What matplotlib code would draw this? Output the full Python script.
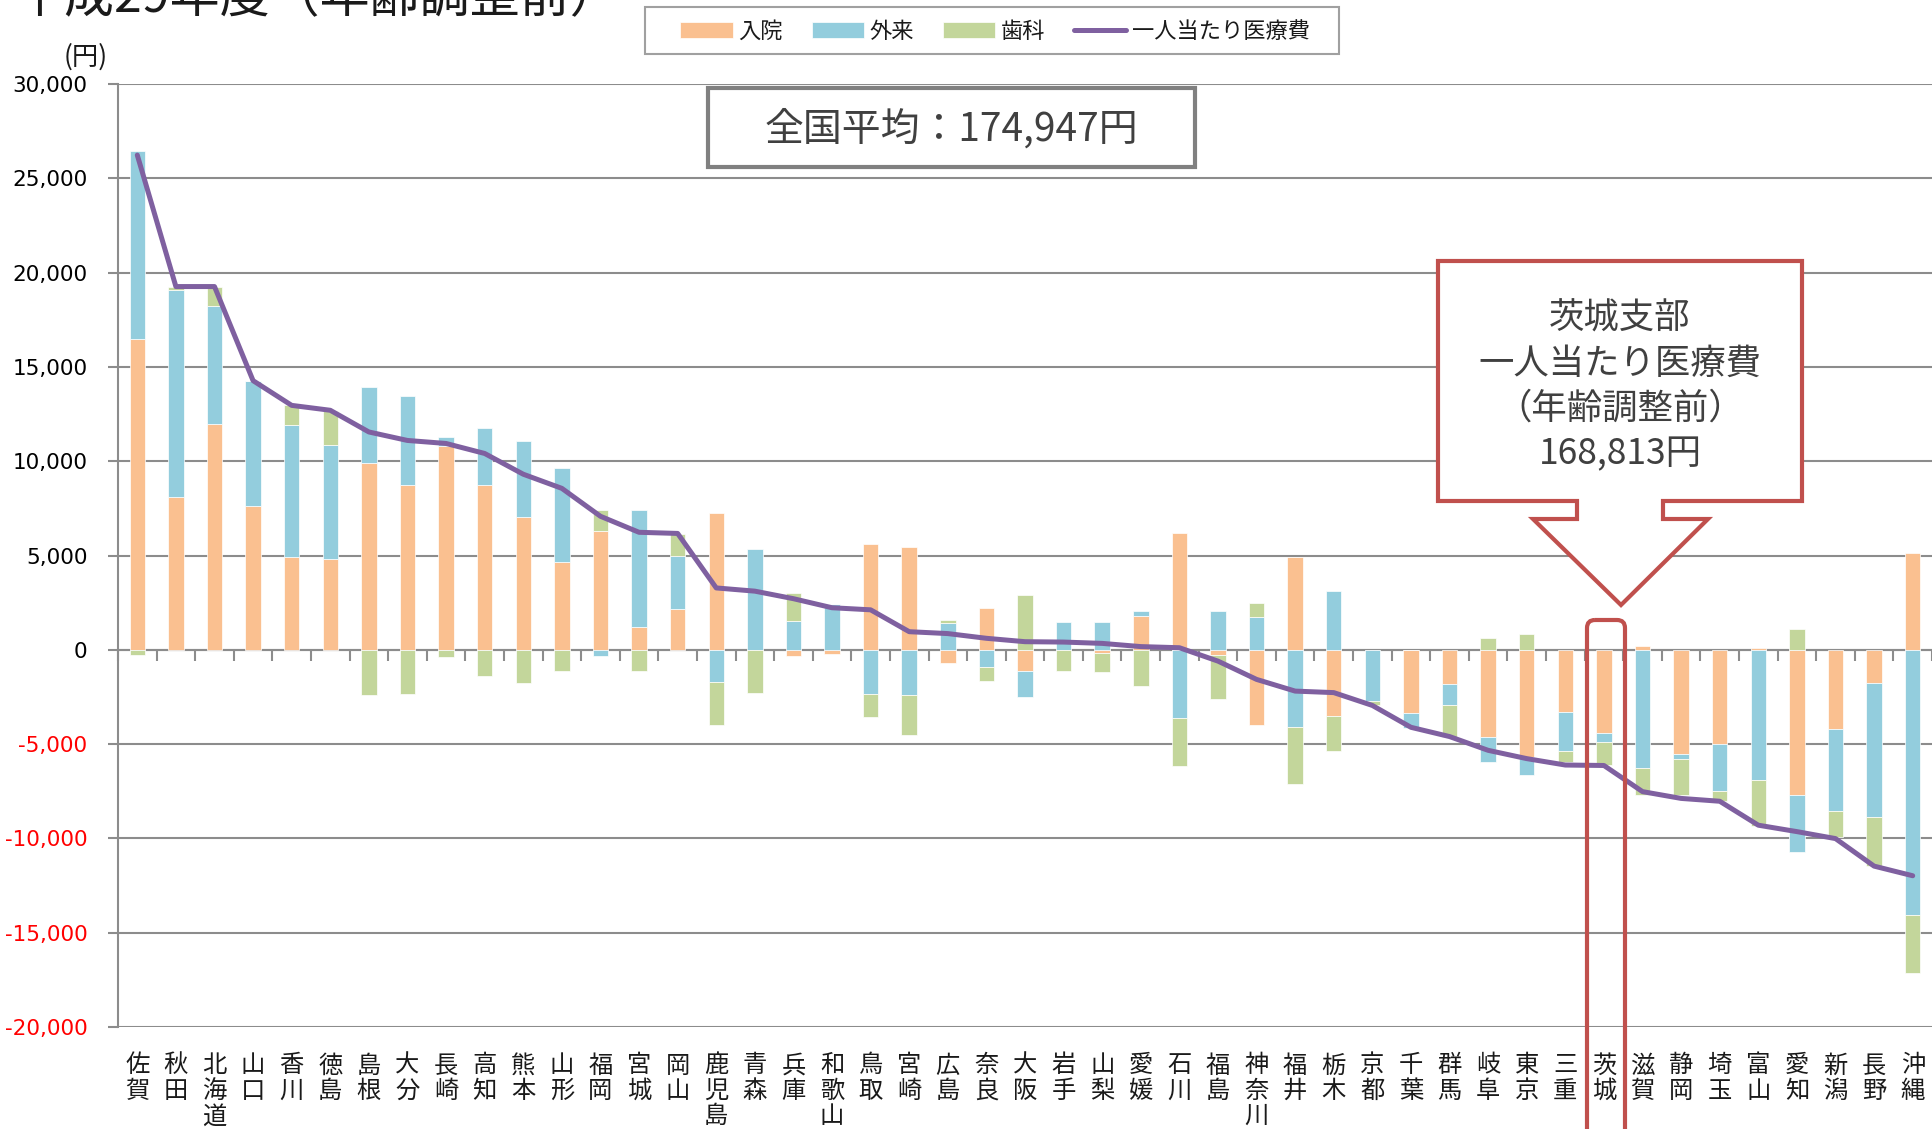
import matplotlib
matplotlib.use('Agg')
import matplotlib.pyplot as plt
import matplotlib.transforms as mtransforms
from matplotlib.patches import Polygon, FancyBboxPatch, Rectangle
import numpy as np

plt.rcParams['font.family'] = ['Noto Sans CJK JP', 'DejaVu Sans']

# 都道府県（全国平均との差、円）
names = ['佐賀', '秋田', '北海道', '山口', '香川', '徳島', '島根', '大分', '長崎', '高知',
         '熊本', '山形', '福岡', '宮城', '岡山', '鹿児島', '青森', '兵庫', '和歌山', '鳥取',
         '宮崎', '広島', '奈良', '大阪', '岩手', '山梨', '愛媛', '石川', '福島', '神奈川',
         '福井', '栃木', '京都', '千葉', '群馬', '岐阜', '東京', '三重', '茨城', '滋賀',
         '静岡', '埼玉', '富山', '愛知', '新潟', '長野', '沖縄']

nyuin = [16500, 8100, 11970, 7630, 4930, 4800, 9910, 8760, 10820, 8760,
         7030, 4680, 6320, 1210, 2170, 7230, 0, -320, -210, 5630,
         5440, -720, 2220, -1110, 0, -190, 1810, 6210, -250, -4010,
         4940, -3510, 0, -3350, -1820, -4640, -5710, -3290, -4400, 180,
         -5510, -4970, 80, -7690, -4200, -1740, 5130]

gairai = [9930, 11000, 6280, 6640, 7000, 6080, 4040, 4690, 470, 3010,
          4050, 4970, -340, 6200, 2810, -1710, 5350, 1530, 2430, -2340,
          -2390, 1410, -930, -1390, 1480, 1480, 250, -3620, 2060, 1720,
          -4080, 3130, -2740, -810, -1110, -1310, -910, -2080, -505, -6280,
          -300, -2520, -6925, -3030, -4340, -7110, -14050]

shika = [-260, 120, 970, 0, 1030, 1780, -2420, -2320, -380, -1370,
         -1780, -1130, 1090, -1150, 1170, -2270, -2270, 1460, 0, -1200,
         -2130, 160, -700, 2885, -1110, -990, -1920, -2530, -2370, 740,
         -3020, -1860, -200, 0, -1675, 610, 850, -605, -1212, -1410,
         -1880, -550, -2420, 1110, -1410, -2620, -3070]

total = [26230, 19260, 19260, 14270, 12960, 12700, 11550, 11100, 10940, 10410,
         9310, 8560, 7080, 6230, 6170, 3280, 3110, 2710, 2230, 2120,
         960, 860, 610, 430, 410, 340, 170, 110, -600, -1570,
         -2190, -2270, -2950, -4110, -4600, -5330, -5770, -6110, -6134, -7520,
         -7880, -8030, -9300, -9640, -10010, -11470, -11980]

series = [('入院', nyuin, '#FAC090'), ('外来', gairai, '#93CDDD'), ('歯科', shika, '#C3D69B')]
line_color = '#7F60A0'
grid_col = '#8C8C8C'
red = '#C0504D'

W, H = 1932, 1129
fig = plt.figure(figsize=(W / 100, H / 100), dpi=100)
left, top, bot = 118, 84, 1027
ax = fig.add_axes([left / W, 1 - bot / H, (W - left) / W, (bot - top) / H])

x = np.arange(len(names))
pos_b = np.zeros(len(names))
neg_b = np.zeros(len(names))
handles = []
for lab, vals, col in series:
    v = np.array(vals, dtype=float)
    b = np.where(v >= 0, pos_b, neg_b)
    h = ax.bar(x, v, 0.4, bottom=b, color=col, edgecolor='white', linewidth=0.5,
               label=lab, zorder=2)
    handles.append(h)
    pos_b += np.clip(v, 0, None)
    neg_b += np.clip(v, None, 0)

ln, = ax.plot(x, total, color=line_color, lw=3.6, solid_capstyle='round',
              solid_joinstyle='round', zorder=3, label='一人当たり医療費')
handles.append(ln)

ax.set_ylim(-20000, 30000)
yt = list(range(-20000, 30001, 5000))
ax.set_yticks(yt)
ax.set_yticklabels([f'{v:,}' for v in yt], fontfamily='DejaVu Sans', fontsize=15.5)
for t, v in zip(ax.get_yticklabels(), yt):
    t.set_color('red' if v < 0 else 'black')
ax.yaxis.grid(True, color=grid_col, lw=1.5)
ax.set_axisbelow(True)
ax.set_xlim(-0.5, (W - left) / 38.93 - 0.5)

for s in ['top', 'right']:
    ax.spines[s].set_visible(False)
ax.spines['bottom'].set_position(('data', 0))
for s in ['bottom', 'left']:
    ax.spines[s].set_color(grid_col)
    ax.spines[s].set_linewidth(1.5)
ax.spines['bottom'].set_zorder(1)

ax.tick_params(axis='y', length=7, width=1.5, color=grid_col, pad=15)
ax.set_xticks(x)
ax.set_xticklabels([])
ax.tick_params(axis='x', which='major', length=0)
ax.set_xticks(np.arange(-0.5, len(names)), minor=True)
ax.tick_params(axis='x', which='minor', length=8, width=1.5, color=grid_col, direction='out')

trans = mtransforms.blended_transform_factory(ax.transData, ax.transAxes)
for i, n in enumerate(names):
    ax.text(i, -0.027, '\n'.join(n), transform=trans, ha='center', va='top',
            fontsize=17.5, linespacing=0.97, color='#1a1a1a')

# title (cut off at top) and unit
fig.text(14 / W, 1 - 12 / H, '平成29年度（年齢調整前）', fontsize=36, ha='left',
         va='baseline', color='#1a1a1a')
fig.text(86 / W, 1 - 57 / H, '(円)', fontsize=19, ha='center', va='center', color='#1a1a1a')

leg = fig.legend(handles, [h.get_label() for h in handles], loc='center',
                 bbox_to_anchor=(995 / W, 1 - 31 / H), ncol=4, fontsize=16,
                 frameon=False, handlelength=2.35, handletextpad=0.25,
                 columnspacing=1.3, borderpad=0.3)
for t in leg.get_texts():
    t.set_color('#1a1a1a')

# overlay for boxes
ov = fig.add_axes([0, 0, 1, 1])
ov.set_xlim(0, W)
ov.set_ylim(H, 0)
ov.axis('off')
ov.patch.set_alpha(0)

ov.add_patch(Rectangle((645, 7), 694, 47, fill=False, ec='#A0A0A0', lw=1.5))

ov.add_patch(Rectangle((708, 88), 487, 79, fc='white', ec='#808080', lw=3))
ov.text(951, 129, '全国平均：174,947円', fontsize=28, ha='center', va='center', color='#404040')

callout = [(1438, 261), (1802, 261), (1802, 501), (1663, 501), (1663, 519), (1708, 519),
           (1621, 605), (1533, 519), (1577, 519), (1577, 501), (1438, 501)]
ov.add_patch(Polygon(callout, closed=True, fc='white', ec=red, lw=3, joinstyle='miter'))
for yy, s in zip([319, 364, 409, 454], ['茨城支部', '一人当たり医療費', '（年齢調整前）', '168,813円']):
    ov.text(1620, yy, s, fontsize=25.5, ha='center', va='center', color='#404040')

ov.add_patch(FancyBboxPatch((1587, 620), 38, 560, boxstyle='round,pad=0,rounding_size=8',
                            fill=False, ec=red, lw=3))

fig.savefig('out.png', dpi=100)
